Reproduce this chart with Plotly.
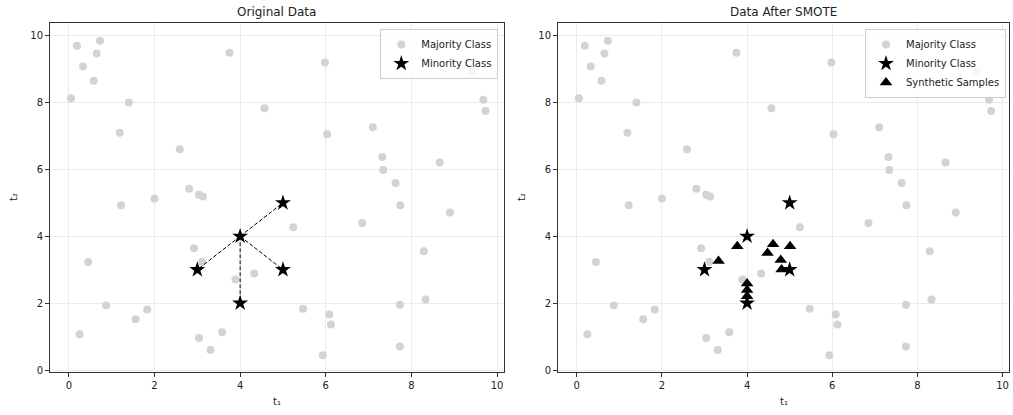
import plotly.graph_objects as go

# ---------------- data ----------------
maj_x = [0.19, 0.73, 0.65, 0.33, 0.58, 0.05, 1.40, 1.19, 2.59, 3.75, 4.57, 2.81, 3.04, 3.13, 2.00, 1.22,
         5.98, 9.41, 9.68, 9.73, 6.03, 7.10, 7.32, 7.34, 8.66, 7.63, 7.74, 8.90,
         0.45, 2.92, 3.11, 0.87, 0.25, 1.56, 1.83, 3.04, 3.31, 3.58, 3.89, 4.33,
         5.24, 6.85, 8.29, 5.47, 6.08, 6.12, 7.73, 8.33, 7.73, 5.93]
maj_y = [9.70, 9.85, 9.47, 9.08, 8.65, 8.13, 8.00, 7.10, 6.60, 9.49, 7.83, 5.42, 5.24, 5.19, 5.13, 4.93,
         9.20, 8.93, 8.08, 7.75, 7.05, 7.26, 6.37, 5.98, 6.21, 5.59, 4.93, 4.71,
         3.23, 3.64, 3.24, 1.93, 1.07, 1.52, 1.81, 0.96, 0.60, 1.13, 2.71, 2.89,
         4.27, 4.40, 3.55, 1.83, 1.66, 1.36, 1.95, 2.11, 0.70, 0.44]

min_x = [3, 4, 5, 5, 4]
min_y = [3, 4, 5, 3, 2]

center_pt = (4, 4)
neighbor_x = [3, 5, 5, 4]
neighbor_y = [3, 5, 3, 2]

syn_x = [3.33, 3.77, 4.00, 4.00, 4.00, 4.48, 4.61, 4.79, 4.81, 5.01]
syn_y = [3.26, 3.70, 2.59, 2.39, 2.21, 3.50, 3.76, 3.29, 3.01, 3.70]

titles = ["Original Data", "Data After SMOTE"]
tick_vals = [0, 2, 4, 6, 8, 10]
x_label = "t₁"
y_label = "t₂"

# ---------------- figure ----------------
W, H = 1013, 415
FONT = "DejaVu Sans"
MAJ_COLOR = "#d3d3d3"

fig = go.Figure()

line_x, line_y = [], []
for nx, ny in zip(neighbor_x, neighbor_y):
    line_x += [center_pt[0], nx, None]
    line_y += [center_pt[1], ny, None]

STAR = 12
TRI = 11
DOT = 8

# left panel
fig.add_trace(go.Scatter(x=maj_x, y=maj_y, mode="markers", name="Majority Class",
                         marker=dict(color=MAJ_COLOR, size=DOT, symbol="circle"),
                         xaxis="x", yaxis="y", legend="legend"))
fig.add_trace(go.Scatter(x=line_x, y=line_y, mode="lines", showlegend=False,
                         line=dict(color="black", width=1, dash="4px,2px"),
                         xaxis="x", yaxis="y", hoverinfo="skip"))
fig.add_trace(go.Scatter(x=min_x, y=min_y, mode="markers", name="Minority Class",
                         marker=dict(color="black", size=STAR, symbol="star"),
                         xaxis="x", yaxis="y", legend="legend"))

# right panel
fig.add_trace(go.Scatter(x=maj_x, y=maj_y, mode="markers", name="Majority Class",
                         marker=dict(color=MAJ_COLOR, size=DOT, symbol="circle"),
                         xaxis="x2", yaxis="y2", legend="legend2"))
fig.add_trace(go.Scatter(x=min_x, y=min_y, mode="markers", name="Minority Class",
                         marker=dict(color="black", size=STAR, symbol="star"),
                         xaxis="x2", yaxis="y2", legend="legend2"))
fig.add_trace(go.Scatter(x=syn_x, y=syn_y, mode="markers", name="Synthetic Samples",
                         marker=dict(color="black", size=TRI, symbol="triangle-up"),
                         xaxis="x2", yaxis="y2", legend="legend2"))

xrange = [-0.44, 10.15]
yrange = [-0.05, 10.37]
ydom = [1 - 371.7 / H, 1 - 23.3 / H]
xdom1 = [50 / W, 503.5 / W]
xdom2 = [558 / W, 1009 / W]

axis_common = dict(
    tickvals=tick_vals, ticks="outside", ticklen=4, tickwidth=1, tickcolor="#333",
    showgrid=True, gridcolor="#ebebeb", gridwidth=1,
    showline=True, linecolor="#333", linewidth=1, mirror=True,
    zeroline=False, automargin=False,
    tickfont=dict(family=FONT, size=10, color="#222"),
)

legend_common = dict(
    xanchor="right", yanchor="top", y=1 - 29 / H,
    bgcolor="rgba(255,255,255,0.8)", bordercolor="#cccccc", borderwidth=1,
    font=dict(family=FONT, size=10, color="#222"), tracegroupgap=0, itemwidth=30,
)

fig.update_layout(
    width=W, height=H,
    margin=dict(l=0, r=0, t=0, b=0, autoexpand=False),
    paper_bgcolor="white", plot_bgcolor="white",
    font=dict(family=FONT, size=10, color="#222"),
    xaxis=dict(domain=xdom1, range=xrange, anchor="y", **axis_common),
    yaxis=dict(domain=ydom, range=yrange, anchor="x", **axis_common),
    xaxis2=dict(domain=xdom2, range=xrange, anchor="y2", **axis_common),
    yaxis2=dict(domain=ydom, range=yrange, anchor="x2", **axis_common),
    legend=dict(x=498.3 / W, **legend_common),
    legend2=dict(x=1006 / W, **legend_common),
    showlegend=True,
)

annotations = []
for title, dom in zip(titles, [xdom1, xdom2]):
    cx = (dom[0] + dom[1]) / 2
    annotations.append(dict(text=title, x=cx, y=1 - 12 / H, xref="paper", yref="paper",
                            showarrow=False, xanchor="center", yanchor="middle",
                            font=dict(family=FONT, size=12, color="#222")))
    annotations.append(dict(text=x_label, x=cx, y=1 - 401 / H, xref="paper", yref="paper",
                            showarrow=False, xanchor="center", yanchor="middle",
                            font=dict(family=FONT, size=10, color="#222")))
    annotations.append(dict(text=y_label, x=(dom[0] * W - 37) / W, y=1 - 197 / H,
                            xref="paper", yref="paper", textangle=-90,
                            showarrow=False, xanchor="center", yanchor="middle",
                            font=dict(family=FONT, size=10, color="#222")))
fig.update_layout(annotations=annotations)

fig.write_html("out.html",
               config={"displayModeBar": False},
               post_script="document.body.style.margin='0';document.body.style.overflow='hidden';")
